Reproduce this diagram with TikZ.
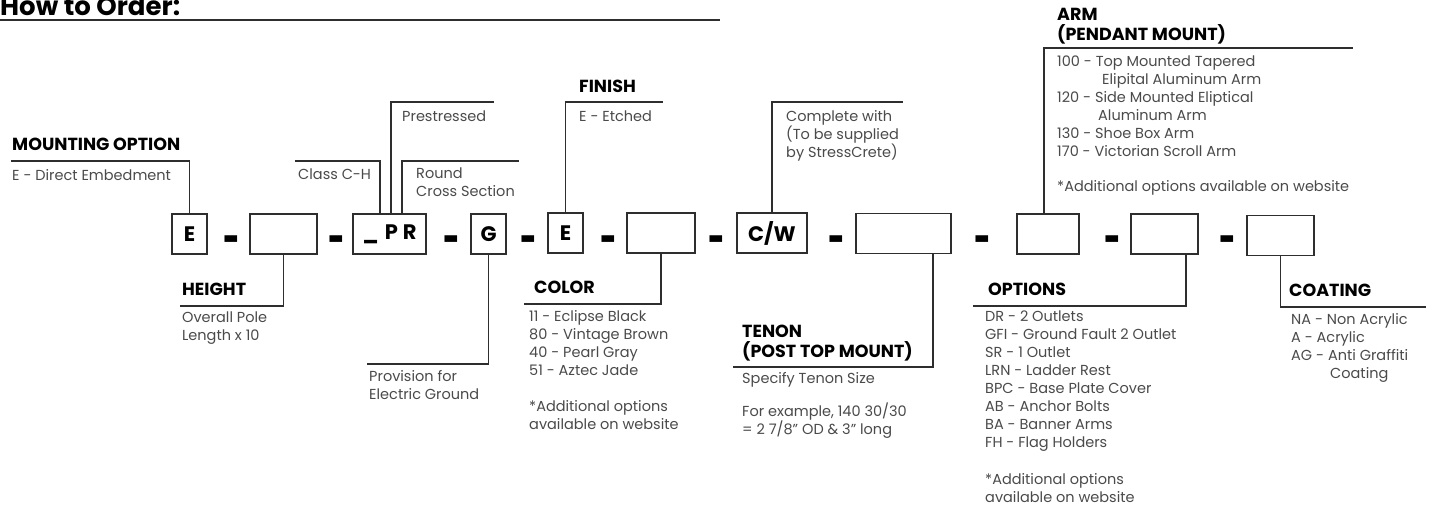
\documentclass[tikz,border=0pt]{standalone}
\usepackage{fontspec}
\setmainfont{Poppins}
\usepackage{graphicx}
\usepackage{tikz}
\usetikzlibrary{positioning}
\usepackage{xcolor}
\definecolor{linegray}{HTML}{2E2E2E}
\definecolor{textgray}{HTML}{4A4A4A}
\newcommand{\dashmark}{\scalebox{1.1}[1.8]{-}}

\begin{document}
\begin{tikzpicture}[
        x=1pt, y=-1pt,
        slot/.style={rectangle, draw=linegray, line width=1.4pt, minimum height=40pt, inner sep=0pt, font=\fontsize{21}{21}\selectfont\bfseries},
        sep/.style={anchor=base, inner sep=0pt, font=\fontsize{26}{26}\selectfont\bfseries},
        head/.style={anchor=north west, yshift=14pt, inner sep=0pt, align=left, execute at begin node={\rule{0pt}{14pt}}, font=\fontsize{17.5}{20}\selectfont\bfseries},
        desc/.style={anchor=north west, yshift=11pt, inner sep=0pt, align=left, execute at begin node={\rule{0pt}{11pt}}, text=textgray, font=\fontsize{14.5}{18}\selectfont},
        line/.style={draw=linegray, line width=1.4pt}
    ]
    \useasboundingbox (0,0) rectangle (1432,504);
    \clip (0,0) rectangle (1432,504);
    \node [anchor=base west, inner sep=0pt, font=\fontsize{26}{26}\selectfont\bfseries] (title) at (0,15) {How to Order:};
    \coordinate (ruleL) at (0,20);
    \coordinate (ruleR) at (720,20);
    \draw [line, line width=2pt] (ruleL) -- (ruleR);

    \node [slot, minimum width=35pt] (mount) at (189.5,234) {E};
    \node [slot, minimum width=67pt] (height) at (283.5,234) {};
    \node [slot, minimum width=73pt] (pr) at (389.5,234) {\_\hspace{6pt}P\hspace{5pt}R};
    \node [slot, minimum width=35pt] (gnd) at (488.5,234) {G};
    \node [slot, minimum width=35pt] (fin) at (565.5,233) {E};
    \node [slot, minimum width=68pt] (color) at (661,233) {};
    \node [slot, minimum width=70pt] (cw) at (772,233) {C/W};
    \node [slot, minimum width=95pt] (tenon) at (903.5,233.5) {};
    \node [slot, minimum width=62pt] (arm) at (1048,234) {};
    \node [slot, minimum width=67pt] (opt) at (1164.5,234) {};
    \node [slot, minimum width=67pt] (coat) at (1280.5,235.5) {};

    \node [sep] (d1) at (231.5,255) {\dashmark};
    \node [sep] (d2) at (336.5,255) {\dashmark};
    \node [sep] (d3) at (451.5,255) {\dashmark};
    \node [sep] (d4) at (528.5,255) {\dashmark};
    \node [sep] (d5) at (608.5,255) {\dashmark};
    \node [sep] (d6) at (717,255) {\dashmark};
    \node [sep] (d7) at (836.5,255) {\dashmark};
    \node [sep] (d8) at (983,255) {\dashmark};
    \node [sep] (d9) at (1112.5,255) {\dashmark};
    \node [sep] (d10) at (1228,255) {\dashmark};

    \node [head] (mounthead) at (12,150) {MOUNTING OPTION};
    \node [desc] (mounttext) at (12,180) {E - Direct Embedment};
    \node [head] (heighthead) at (182,295) {HEIGHT};
    \node [desc] (heighttext) at (182,323) {Overall Pole\\Length x 10};
    \node [desc] (classtext) at (298,179) {Class C-H};
    \node [desc] (prestext) at (402,121) {Prestressed};
    \node [desc] (roundtext) at (416,179) {Round\\Cross Section};
    \node [desc] (gndtext) at (369,381) {Provision for\\Electric Ground};
    \node [head] (finhead) at (579,92) {FINISH};
    \node [desc] (fintext) at (579,121) {E - Etched};
    \node [head] (colorhead) at (534,293) {COLOR};
    \node [desc] (colortext) at (529,321) {11 - Eclipse Black\\80 - Vintage Brown\\40 - Pearl Gray\\51 - Aztec Jade\\[18pt]*Additional options\\available on website};
    \node [desc] (cwtext) at (786,121) {Complete with\\(To be supplied\\by StressCrete)};
    \node [head] (tenonhead) at (742,339) {TENON\\(POST TOP MOUNT)};
    \node [desc] (tenontext) at (742,383) {Specify Tenon Size\\[15pt]For example, 140 30/30\\= 2 7/8" OD \& 3" long};
    \node [head] (armhead) at (1057,22) {ARM\\(PENDANT MOUNT)};
    \node [desc] (armtext) at (1057,67) {100 - Top Mounted Tapered\\\hspace*{45pt}Elipital Aluminum Arm\\120 - Side Mounted Eliptical\\\hspace*{41pt}Aluminum Arm\\130 - Shoe Box Arm\\170 - Victorian Scroll Arm\\[17pt]*Additional options available on website};
    \node [head] (opthead) at (988,295) {OPTIONS};
    \node [desc] (opttext) at (985,322) {DR - 2 Outlets\\GFI - Ground Fault 2 Outlet\\SR - 1 Outlet\\LRN - Ladder Rest\\BPC - Base Plate Cover\\AB - Anchor Bolts\\BA - Banner Arms\\FH - Flag Holders\\[19pt]*Additional options\\available on website};
    \node [head] (coathead) at (1289,296) {COATING};
    \node [desc] (coattext) at (1291,324) {NA - Non Acrylic\\A - Acrylic\\AG - Anti Graffiti\\\hspace*{39pt}Coating};

    \coordinate (mountL) at (11,161);
    \coordinate (heightL) at (180,306);
    \coordinate (classK) at (380,161);
    \coordinate (classL) at (295,161);
    \coordinate (presK) at (391,102);
    \coordinate (presL) at (494,102);
    \coordinate (roundK) at (402,161);
    \coordinate (roundL) at (519,161);
    \coordinate (gndL) at (367,364);
    \coordinate (finL) at (663,102);
    \coordinate (colorL) at (524,304);
    \coordinate (cwL) at (903,102);
    \coordinate (tenonK) at (933,367);
    \coordinate (tenonL) at (733,367);
    \coordinate (armK) at (1044,48);
    \coordinate (armL) at (1353,48);
    \coordinate (optK) at (1186,306);
    \coordinate (optL) at (973,306);
    \coordinate (coatL) at (1426,307);

    \draw [line] (mount.north) |- (mountL);
    \draw [line] (height.south) |- (heightL);
    \draw [line] (pr.north -| classK) -- (classK) -- (classL);
    \draw [line] (pr.north -| presK) -- (presK) -- (presL);
    \draw [line] (pr.north -| roundK) -- (roundK) -- (roundL);
    \draw [line] (gnd.south) |- (gndL);
    \draw [line] (fin.north) |- (finL);
    \draw [line] (color.south) |- (colorL);
    \draw [line] (cw.north) |- (cwL);
    \draw [line] (tenon.south -| tenonK) -- (tenonK) -- (tenonL);
    \draw [line] (arm.north -| armK) -- (armK) -- (armL);
    \draw [line] (opt.south -| optK) -- (optK) -- (optL);
    \draw [line] (coat.south) |- (coatL);
\end{tikzpicture}
\end{document}
